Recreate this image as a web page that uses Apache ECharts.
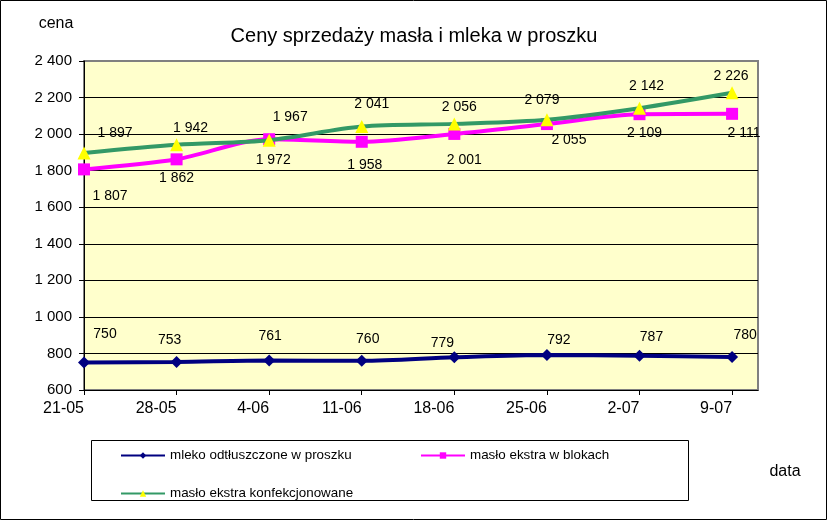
<!DOCTYPE html>
<html><head><meta charset="utf-8">
<script src="https://cdn.jsdelivr.net/npm/echarts@6/dist/echarts.min.js"></script>
<style>html,body{margin:0;padding:0;background:#fff}#c{width:828px;height:521px}</style>
</head><body><div id="c"></div>
<script>
// ---- data ----
const categories = ['21-05','28-05','4-06','11-06','18-06','25-06','2-07','9-07'];
const mleko = [750,753,761,760,779,792,787,780];
const masloBloki = [1807,1862,1972,1958,2001,2055,2109,2111];
const masloKonf = [1897,1942,1967,2041,2056,2079,2142,2226];
const seriesNames = ['mleko odtłuszczone w proszku','masło ekstra w blokach','masło ekstra konfekcjonowane'];

// ---- style: label nudges (px) ----
const mlekoNudge = [[21,-28],[-7,-22],[1,-24],[6,-22],[-12,-14],[12,-15],[12,-19],[13,-22]];
const blokiNudge = [[26,27],[0,19],[4,21],[3,23],[10,26],[22,16],[5,19],[12,19]];
const konfNudge  = [[31,-20],[14,-17],[21,-23],[10,-22],[5,-17],[-5,-20],[7,-22],[-1,-17]];

const FONT = 'Liberation Sans, Arial, sans-serif';
const fmt = n => String(n).replace(/\B(?=(\d{3})+(?!\d))/g, ' ');
const idx = categories.map((c,i)=>i);

function build(vals, nudge){
  return vals.map((v,i)=>({value:[i,v], label:{offset:nudge[i]}}));
}
const labelCfg = {show:true, position:'inside', color:'#000', fontSize:14, fontFamily:FONT,
  formatter: p => fmt(p.value[1])};
const legendText = {fontSize:13.4, color:'#000', fontFamily:FONT};

const chart = echarts.init(document.getElementById('c'), null, {renderer:'canvas'});
chart.setOption({
  animation:false,
  backgroundColor:'#fff',
  title:{text:'Ceny sprzedaży masła i mleka w proszku', left:409, top:21, textAlign:'center',
    textStyle:{fontSize:20, fontWeight:'normal', color:'#000', fontFamily:FONT}},
  grid:{left:84, top:61, width:674, height:329, show:true, backgroundColor:'#FFFFCC',
    borderColor:'#808080', borderWidth:2, containLabel:false},
  xAxis:{type:'value', min:0, max:7.28,
    axisLine:{lineStyle:{color:'#000', width:1}},
    axisTick:{show:true, length:5, customValues:idx, lineStyle:{color:'#000'}},
    axisLabel:{customValues:idx, margin:11, align:'right', color:'#000', fontSize:16, fontFamily:FONT,
      formatter: v => categories[Math.round(v)] || ''},
    splitLine:{show:false}},
  yAxis:{type:'value', min:600, max:2400, interval:200,
    axisLine:{show:true, lineStyle:{color:'#000', width:1}},
    axisTick:{show:true, length:5, lineStyle:{color:'#000'}},
    axisLabel:{margin:12, color:'#000', fontSize:15, fontFamily:FONT, formatter: v => fmt(v)},
    splitLine:{show:true, showMaxLine:false, lineStyle:{color:'#000', width:1}}},
  legend:[
    {data:[seriesNames[0]], left:120, top:449, itemWidth:44, itemHeight:8, padding:0, textStyle:legendText},
    {data:[seriesNames[1]], left:420, top:449, itemWidth:44, itemHeight:8, padding:0, textStyle:legendText},
    {data:[seriesNames[2]], left:120, top:487, itemWidth:44, itemHeight:8, padding:0, textStyle:legendText}
  ],
  graphic:[
    {type:'rect', shape:{x:0.5, y:0.5, width:826, height:519}, style:{fill:null, stroke:'#000', lineWidth:1}, silent:true},
    {type:'rect', shape:{x:91.5, y:440.5, width:597, height:60}, style:{fill:null, stroke:'#000', lineWidth:1}, silent:true},
    {type:'text', x:56, y:24, style:{text:'cena', fontSize:16, fontFamily:FONT, fill:'#000', align:'center', verticalAlign:'middle'}},
    {type:'text', x:785, y:472, style:{text:'data', fontSize:16, fontFamily:FONT, fill:'#000', align:'center', verticalAlign:'middle'}}
  ],
  series:[
    {name:seriesNames[0], type:'line', data:build(mleko, mlekoNudge), smooth:0.3,
      symbol:'diamond', symbolSize:12, lineStyle:{color:'#000080', width:4},
      itemStyle:{color:'#000080'}, label:labelCfg, z:2},
    {name:seriesNames[1], type:'line', data:build(masloBloki, blokiNudge), smooth:0.3,
      symbol:'rect', symbolSize:12, lineStyle:{color:'#FF00FF', width:4},
      itemStyle:{color:'#FF00FF'}, label:labelCfg, z:3},
    {name:seriesNames[2], type:'line', data:build(masloKonf, konfNudge), smooth:0.3,
      symbol:'triangle', symbolSize:13, lineStyle:{color:'#339966', width:4},
      itemStyle:{color:'#FFFF00'}, label:labelCfg, z:4}
  ]
});
</script></body></html>
